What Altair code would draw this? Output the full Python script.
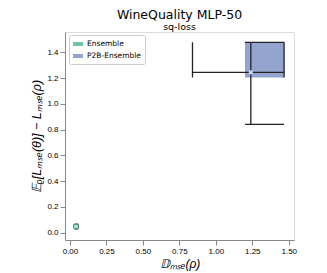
import altair as alt
import pandas as pd

methods = ["Ensemble", "P2B-Ensemble"]
colors = ["#66c2a5", "#8da0cb"]
point_colors = ["#8ff0cf", "#c3d2f5"]
mean_x = [0.042, 1.24]
mean_y = [0.048, 1.245]
err_x_lo = [0.028, 0.84]
err_x_hi = [0.056, 1.468]
err_y_lo = [0.029, 0.84]
err_y_hi = [0.066, 1.478]
box_x_lo = [0.031, 1.20]
box_y_lo = [0.033, 1.205]

x_ticks = [0.0, 0.25, 0.5, 0.75, 1.0, 1.25, 1.5]
y_ticks = [0.0, 0.2, 0.4, 0.6, 0.8, 1.0, 1.2, 1.4]

FONT = "DejaVu Sans"

boxes = pd.DataFrame({
    "method": methods, "x": box_x_lo, "x2": err_x_hi, "y": box_y_lo, "y2": err_y_hi,
})
points = pd.DataFrame({"method": methods, "x": mean_x, "y": mean_y, "pc": point_colors})

segs = []
for i in range(len(methods)):
    segs.append(dict(x=err_x_lo[i], x2=err_x_hi[i], y=mean_y[i], y2=mean_y[i]))
    segs.append(dict(x=mean_x[i], x2=mean_x[i], y=err_y_lo[i], y2=err_y_hi[i]))
    for cx in (err_x_lo[i], err_x_hi[i]):
        segs.append(dict(x=cx, x2=cx, y=box_y_lo[i], y2=err_y_hi[i]))
    for cy in (err_y_lo[i], err_y_hi[i]):
        segs.append(dict(x=box_x_lo[i], x2=err_x_hi[i], y=cy, y2=cy))
segs = pd.DataFrame(segs)

xs = alt.Scale(domain=[-0.034, 1.536], nice=False, zero=False)
ys = alt.Scale(domain=[-0.057, 1.558], nice=False, zero=False)

xaxis = alt.Axis(values=x_ticks, format=".2f", title="𝔻ₘₛₑ(ρ)", grid=False,
                 labelFontSize=8, titleFontSize=12, titleFontStyle="italic",
                 titleFontWeight="normal", titlePadding=3, labelOverlap=False)
yaxis = alt.Axis(values=y_ticks, format=".1f", title="𝔼ᵨ[Lₘₛₑ(θ)] − Lₘₛₑ(ρ)", grid=False,
                 labelFontSize=8, titleFontSize=12.5, titleFontStyle="italic",
                 titleFontWeight="normal", titlePadding=3, labelOverlap=False)

X = alt.X("x:Q", scale=xs, axis=xaxis)
Y = alt.Y("y:Q", scale=ys, axis=yaxis)

rects = alt.Chart(boxes).mark_rect(opacity=0.95).encode(
    x=X, x2="x2:Q", y=Y, y2="y2:Q",
    color=alt.Color("method:N", scale=alt.Scale(domain=methods, range=colors),
                    legend=alt.Legend(title=None, orient="none", legendX=4, legendY=3,
                                      symbolType="M-1,-0.4L1,-0.4L1,0.4L-1,0.4Z",
                                      symbolSize=100, symbolStrokeWidth=0,
                                      labelFontSize=7.5, labelFont=FONT,
                                      rowPadding=3, padding=4,
                                      strokeColor="#cccccc", fillColor="white",
                                      cornerRadius=2)),
)

rules = alt.Chart(segs).mark_rule(color="#222222", strokeWidth=1.3).encode(
    x=X, x2="x2:Q", y=Y, y2="y2:Q",
)

pts = alt.Chart(points).mark_square(size=16, opacity=1).encode(
    x=X, y=Y,
    fill=alt.Fill("pc:N", scale=None), strokeWidth=alt.value(0),
)

chart = alt.layer(rects, rules, pts).properties(
    width=229, height=208,
    autosize=alt.AutoSizeParams(type="none"),
    padding={"left": 57, "top": 24, "right": 25, "bottom": 33},
    title=alt.TitleParams(text="WineQuality MLP-50", subtitle="sq-loss",
                          fontSize=12.5, subtitleFontSize=9.5, font=FONT,
                          subtitleFont=FONT, fontWeight="normal", color="black",
                          subtitleColor="black", anchor="middle", offset=1,
                          subtitlePadding=0),
).configure_axis(
    labelFont=FONT, titleFont=FONT, labelColor="#222222", titleColor="#222222",
    domainColor="#333333", tickColor="#333333", tickSize=3, labelPadding=2,
).configure_view(
    stroke="#333333", strokeWidth=1,
).configure(background="white")

chart.save("out.html", embed_options={"renderer": "svg", "actions": False})
